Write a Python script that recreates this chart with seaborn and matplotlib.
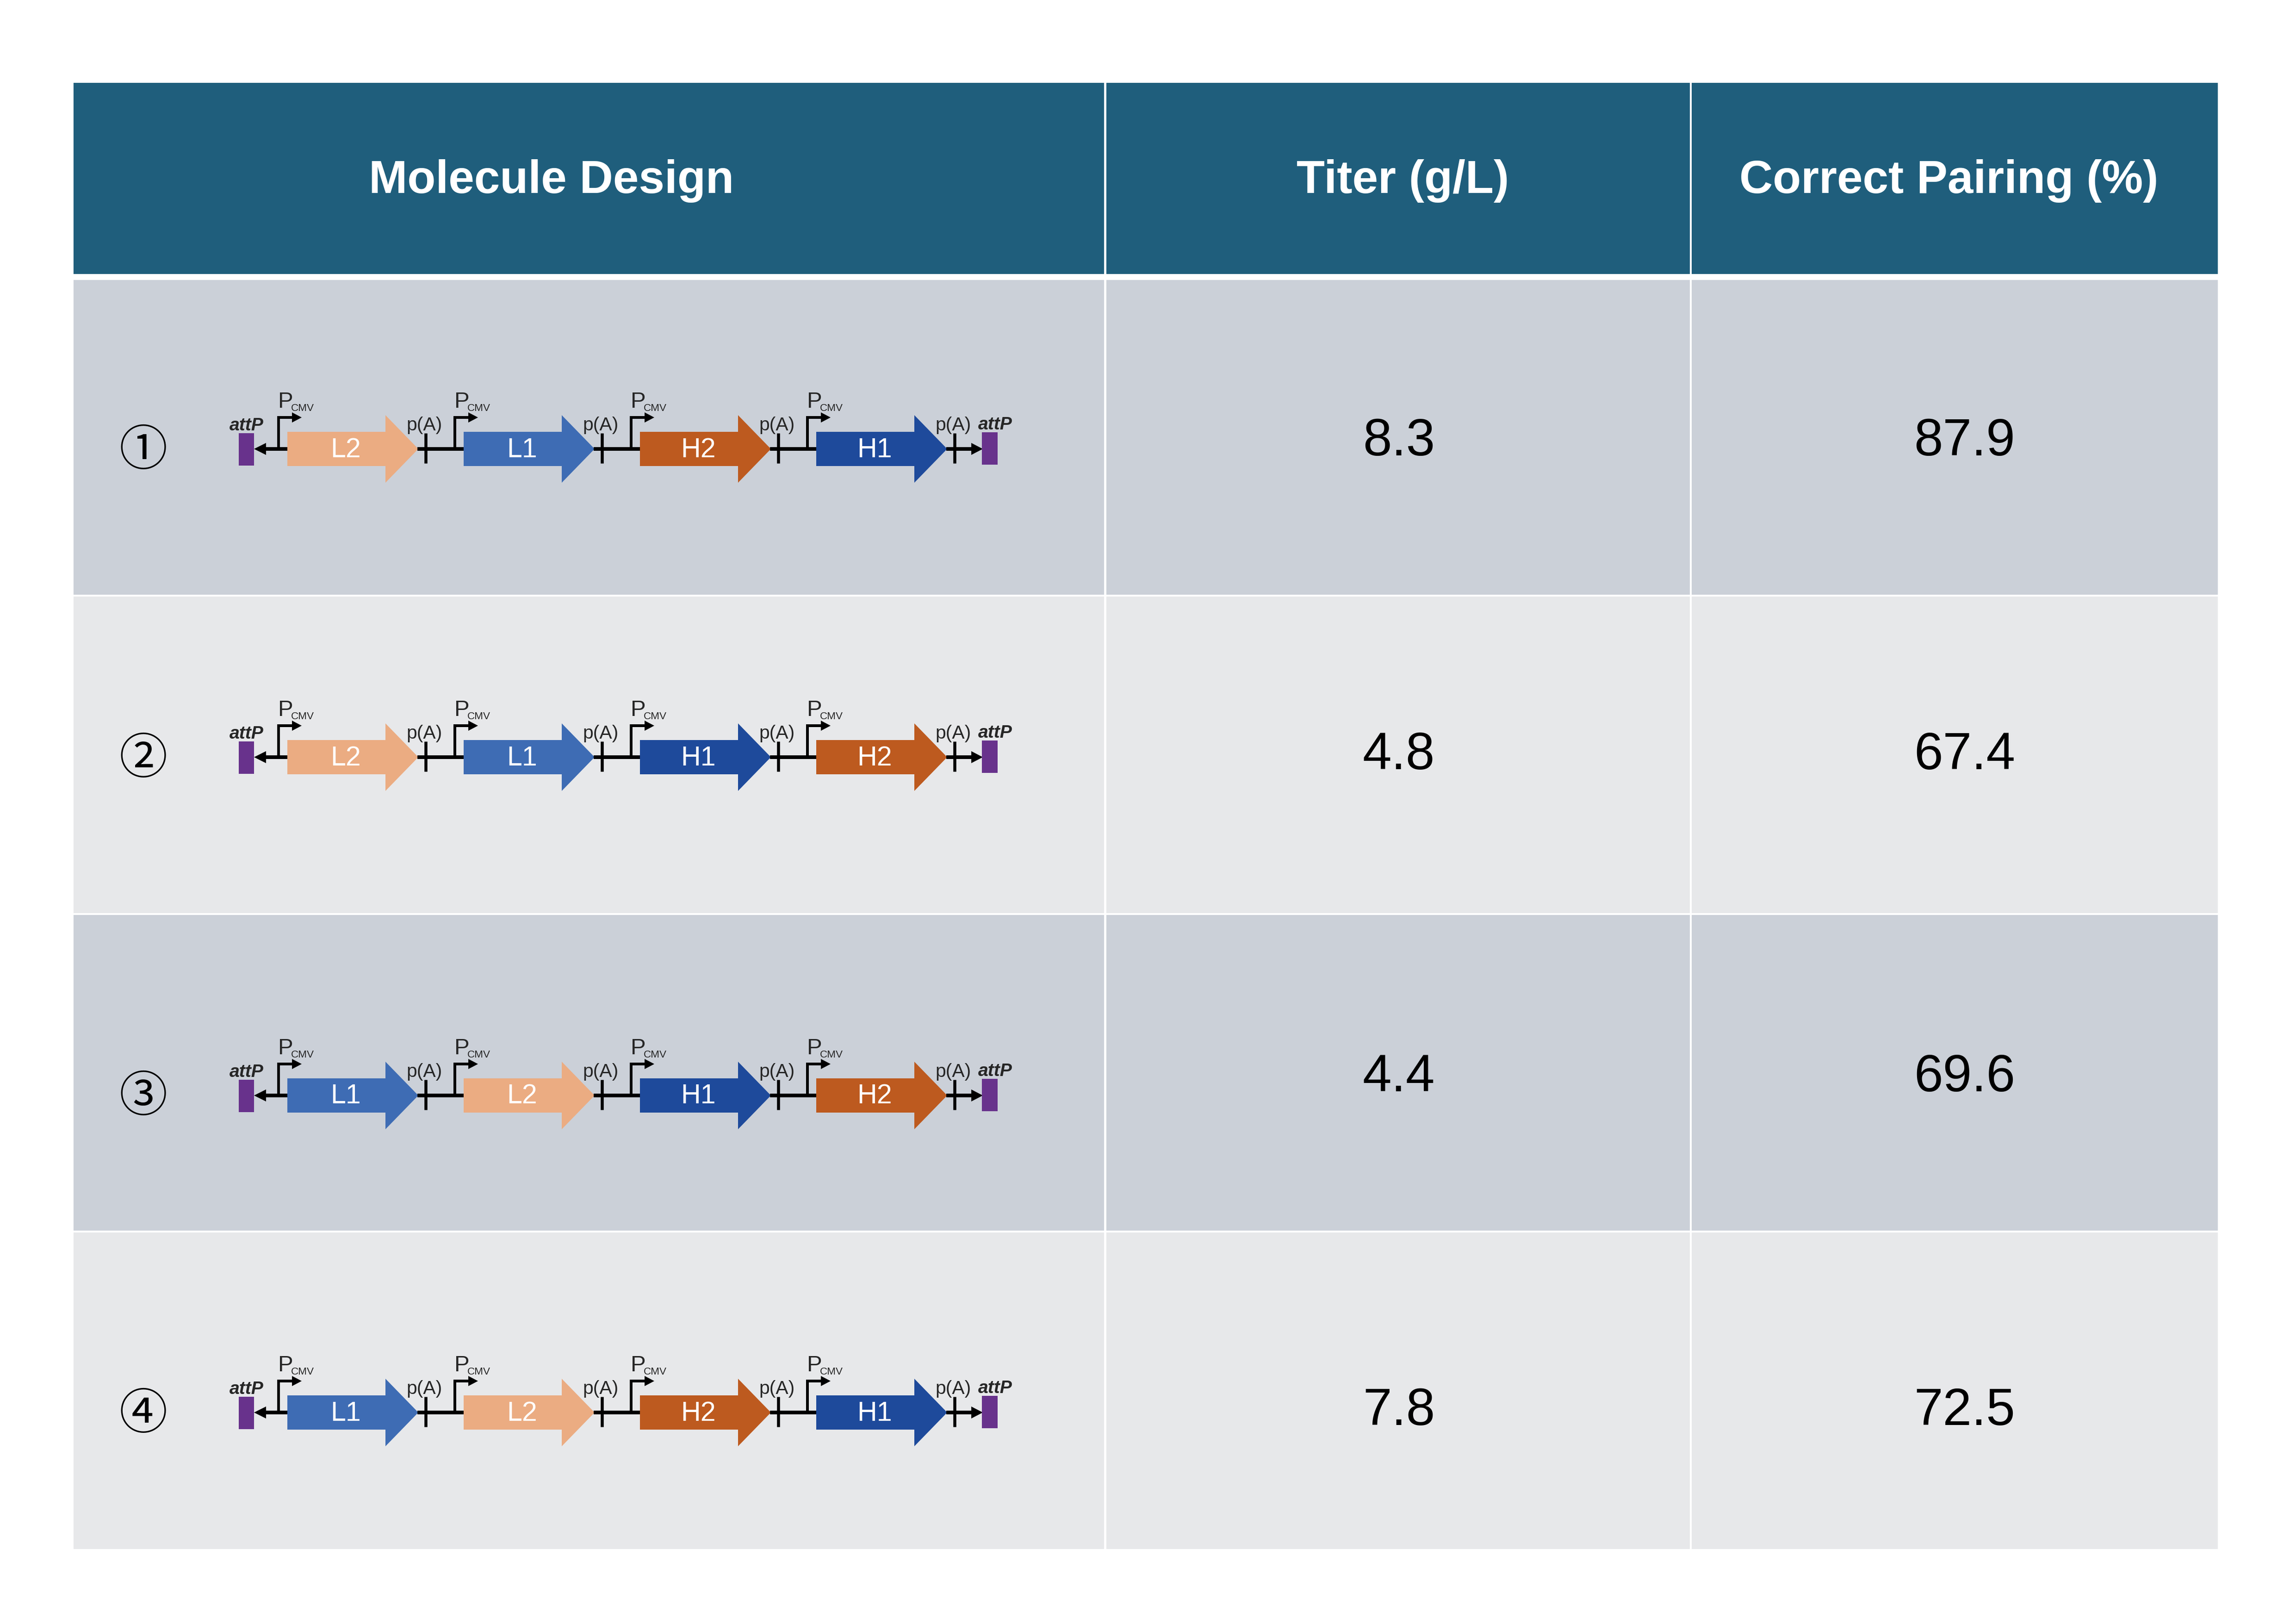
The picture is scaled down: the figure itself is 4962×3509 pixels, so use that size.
import matplotlib
matplotlib.use("Agg")
import matplotlib.pyplot as plt
from matplotlib.patches import Rectangle, Polygon
import seaborn as sns

# ---------------- data ----------------
column_headers = ["Molecule Design", "Titer (g/L)", "Correct Pairing (%)"]
row_labels = ["①", "②", "③", "④"]
designs = [
    ["L2", "L1", "H2", "H1"],
    ["L2", "L1", "H1", "H2"],
    ["L1", "L2", "H1", "H2"],
    ["L1", "L2", "H2", "H1"],
]
titer = [8.3, 4.8, 4.4, 7.8]
correct_pairing = [87.9, 67.4, 69.6, 72.5]
promoter_label = ("P", "CMV")
polya_label = "p(A)"
site_label = "attP"

# ---------------- styles ----------------
gene_colors = {"L2": "#EBAC82", "L1": "#3E6CB4", "H2": "#BD5A1F", "H1": "#1E4A9B"}
header_color = "#1F5E7C"
row_colors = ["#CBD0D8", "#E7E8EA"]
attp_color = "#68328C"

sns.set_theme(style="white")
plt.rcParams["font.family"] = ["Liberation Sans", "DejaVu Sans"]

W, H = 4962, 3509
DPI = 300
fig = plt.figure(figsize=(W / DPI, H / DPI), dpi=DPI)
fig.patch.set_facecolor("white")
ax = fig.add_axes([0, 0, 1, 1])
ax.set_xlim(0, W)
ax.set_ylim(H, 0)
ax.axis("off")

PT = 72.0 / DPI  # points per pixel

# ---------------- layout ----------------
col_edges = [(159, 2386), (2391, 3652), (3656, 4793)]
header_top, header_bot = 179, 592
row_tops = [605, 1289, 1977, 2663]
row_bots = [1285, 1973, 2659, 3347]
header_text_x = [1192, 3032, 4212]
header_baseline = 417
value_x = [3023, 4246]
value_baseline = [984, 1662, 2358, 3079]
diagram_y = [970, 1636, 2367, 3052]
number_x = 310

# header cells
for (x0, x1) in col_edges:
    ax.add_patch(Rectangle((x0, header_top), x1 - x0, header_bot - header_top,
                           facecolor=header_color, edgecolor="none"))
for name, tx in zip(column_headers, header_text_x):
    ax.text(tx, header_baseline, name, color="white", fontsize=24,
            fontweight="bold", ha="center", va="baseline")

# body cells
for i, (t, b) in enumerate(zip(row_tops, row_bots)):
    for (x0, x1) in col_edges:
        ax.add_patch(Rectangle((x0, t), x1 - x0, b - t,
                               facecolor=row_colors[i % 2], edgecolor="none"))

# values
for i in range(len(titer)):
    ax.text(value_x[0], value_baseline[i], f"{titer[i]:.1f}", fontsize=27, ha="center",
            va="baseline", color="black")
    ax.text(value_x[1], value_baseline[i], f"{correct_pairing[i]:.1f}", fontsize=27,
            ha="center", va="baseline", color="black")

# ---------------- construct diagrams ----------------
gene_start0 = 621
period = 381
body_len, head_len = 212, 71
body_half, head_half = 37, 73
bb_lw = 8 * PT
diag_font = ["Liberation Sans", "DejaVu Sans"]


def draw_construct(y, genes):
    starts = [gene_start0 + k * period for k in range(len(genes))]
    # left attP bar + leftward arrow
    ax.add_patch(Rectangle((516, y - 34), 33, 70, facecolor=attp_color, edgecolor="none"))
    ax.text(533, y - 40, site_label, fontsize=9.4, fontweight="bold", style="italic",
            ha="center", va="baseline", family=diag_font)
    ax.plot([572, starts[0]], [y, y], color="black", lw=bb_lw, solid_capstyle="butt")
    ax.add_patch(Polygon([(549, y), (575, y - 13), (575, y + 13)], closed=True,
                         facecolor="black", edgecolor="none"))
    for k, (gs, g) in enumerate(zip(starts, genes)):
        # promoter
        px = gs - 19
        ax.plot([px, px, px + 31], [y, y - 68, y - 68], color="black", lw=6 * PT,
                solid_joinstyle="miter", solid_capstyle="butt")
        ax.add_patch(Polygon([(px + 50, y - 68), (px + 29, y - 79), (px + 29, y - 57)],
                             closed=True, facecolor="black", edgecolor="none"))
        ax.text(px - 1, y - 89, promoter_label[0], fontsize=11.8, ha="left", va="baseline",
                family=diag_font)
        ax.text(px + 27, y - 82, promoter_label[1], fontsize=5.4, ha="left", va="baseline",
                family=diag_font)
        # gene arrow
        hb = gs + body_len
        tip = hb + head_len
        ax.add_patch(Polygon([(gs, y - body_half), (hb, y - body_half), (hb, y - head_half),
                              (tip, y), (hb, y + head_half), (hb, y + body_half),
                              (gs, y + body_half)], closed=True,
                             facecolor=gene_colors[g], edgecolor="none"))
        ax.text(gs + 126, y + 2, g, fontsize=14.2, color="white", ha="center",
                va="center", family=diag_font)
        # backbone to next element
        nxt = starts[k + 1] if k + 1 < len(starts) else 2101
        ax.plot([tip - 2, nxt], [y, y], color="black", lw=bb_lw, solid_capstyle="butt")
        # polyA tick
        tx = gs + 299
        ax.plot([tx, tx], [y - 34, y + 31], color="black", lw=6.5 * PT, solid_capstyle="butt")
        ax.text(tx - 3, y - 40, polya_label, fontsize=9.8, ha="center", va="baseline",
                family=diag_font)
    # right arrow + attP bar
    ax.add_patch(Polygon([(2124, y), (2099, y - 13), (2099, y + 13)], closed=True,
                         facecolor="black", edgecolor="none"))
    ax.add_patch(Rectangle((2122, y - 36), 34, 70, facecolor=attp_color, edgecolor="none"))
    ax.text(2151, y - 42, site_label, fontsize=9.4, fontweight="bold", style="italic",
            ha="center", va="baseline", family=diag_font)


for i, genes in enumerate(designs):
    y = diagram_y[i]
    draw_construct(y, genes)
    ax.text(number_x, y + 5, row_labels[i], fontsize=25, ha="center", va="center",
            family=["Noto Sans CJK SC", "DejaVu Sans"], color="black")

fig.savefig("out.png", dpi=DPI, facecolor="white")
